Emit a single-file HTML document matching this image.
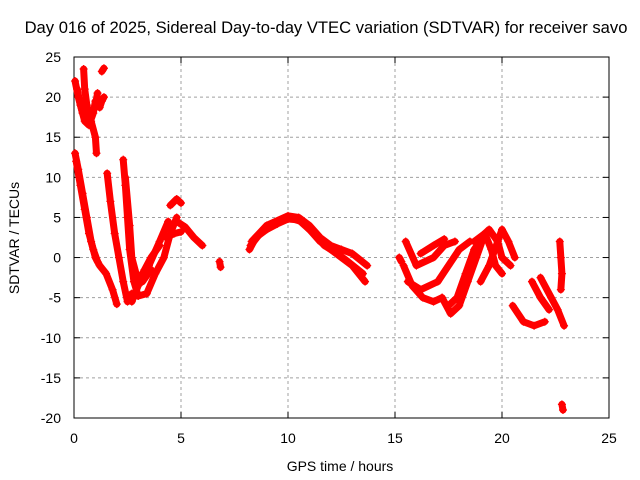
<!DOCTYPE html>
<html><head><meta charset="utf-8"><style>
body{margin:0;background:#fff;}
svg{display:block;font-family:"Liberation Sans",sans-serif;}
</style></head><body>
<svg id="chart" width="640" height="480" viewBox="0 0 640 480">
<rect width="640" height="480" fill="#fff"/>
<text x="326" y="33" font-size="16.6" text-anchor="middle">Day 016 of 2025, Sidereal Day-to-day VTEC variation (SDTVAR) for receiver savo</text>
<g id="grid"></g><g id="axes"></g><g id="marks"></g>
<text x="340" y="471" font-size="14" text-anchor="middle">GPS time / hours</text>
<text transform="translate(19,238) rotate(-90)" font-size="14" text-anchor="middle">SDTVAR / TECUs</text>
</svg>
<script>
const xTicks=[0,5,10,15,20,25];
const yTicks=[25,20,15,10,5,0,-5,-10,-15,-20];
const tracks=[
[[0.05,22],[0.2,20],[0.4,18],[0.6,17],[0.8,17.5],[1.0,19],[1.1,20.5]],
[[0.15,21],[0.3,19],[0.5,17],[0.7,16.5],[0.9,18],[1.0,19.5]],
[[0.45,23.5],[0.5,21],[0.6,19],[0.8,17],[1.0,15],[1.05,13]],
[[1.2,18.7],[1.3,19.5],[1.4,20]],
[[1.3,23.2],[1.4,23.6]],
[[0.05,13],[0.2,11],[0.4,8],[0.6,5],[0.8,2],[1.0,0],[1.2,-1],[1.5,-2],[1.8,-4],[2.0,-5.8]],
[[0.1,12],[0.3,9],[0.5,6],[0.7,3],[0.9,1],[1.1,-0.5]],
[[1.55,10.5],[1.7,7],[1.9,3],[2.1,0],[2.3,-3],[2.5,-5.5],[2.7,-4.5]],
[[2.3,12.2],[2.4,9],[2.5,5],[2.6,1],[2.8,-3],[3.0,-4.8],[3.4,-4.5],[3.8,-2],[4.2,0],[4.5,3],[4.8,5]],
[[2.4,10],[2.6,4],[2.7,0],[2.9,-2],[3.2,-3],[3.6,-1.5]],
[[2.7,-5.5],[3.0,-3.5],[3.5,-1],[4.0,2],[4.4,4.5]],
[[3.0,-3],[3.3,-1.5],[3.6,0],[4.0,1.5]],
[[4.5,6.5],[4.8,7.3],[5.0,6.8]],
[[4.8,4.5],[5.2,3.8],[5.6,2.5],[6.0,1.5]],
[[4.3,2.5],[4.7,3],[5.0,3.2]],
[[6.8,-0.5],[6.85,-1.2]],
[[8.2,1],[8.5,2.5],[9,3.5],[9.5,4.2],[10,4.8],[10.5,4.7],[11,3.5],[11.5,2],[12,1],[12.5,0],[13,-1],[13.6,-3]],
[[8.25,1.5],[8.7,3],[9.3,4],[10,5],[10.6,4.5],[11.2,3],[11.7,1.5],[12.3,0.5],[12.8,-0.5],[13.5,-2]],
[[8.3,2],[9,4],[10,5.2],[10.5,5],[11,4],[11.5,2.5],[12,1.5],[12.5,1],[13,0.5],[13.7,-1]],
[[15.2,0],[15.3,-0.5]],
[[15.4,-1],[15.8,-3.5],[16.3,-5],[16.8,-5.5],[17.2,-5]],
[[15.6,-3],[16.2,-4],[17.0,-3],[17.5,-1],[18,1],[18.5,2]],
[[15.5,2],[16.0,-1],[16.8,0],[17.3,1.5],[17.8,2]],
[[16.2,0.5],[16.8,1.5],[17.3,2.3]],
[[17.2,-5],[17.6,-7],[18,-6],[18.4,-3],[18.8,0],[19.2,3]],
[[17.5,-6],[17.9,-5],[18.3,-2],[18.7,1],[19.1,2.5]],
[[18.2,-3],[18.6,0],[19,2.5],[19.4,3.5],[19.8,2],[20,0],[20.4,-1]],
[[19.0,-3],[19.4,-1],[19.8,2],[20.0,3.5],[20.3,2],[20.6,0]],
[[18.7,2],[19.2,3],[19.5,1],[19.7,-1],[20,-2]],
[[20.5,-6],[21,-8],[21.5,-8.5],[22,-8]],
[[21.4,-3],[21.8,-5],[22.2,-6.5]],
[[21.8,-2.5],[22.3,-5],[22.6,-6.5],[22.9,-8.5]],
[[22.7,2],[22.75,0],[22.8,-2],[22.75,-4]],
[[22.8,-18.3],[22.85,-19]]
];
const NS='http://www.w3.org/2000/svg';
const L=74,R=609,T=57,B=418;
const xs=v=>L+(v-0)/25*(R-L);
const ys=v=>B-(v+20)/45*(B-T);
function mk(tag,attrs,parent){const e=document.createElementNS(NS,tag);for(const k in attrs)e.setAttribute(k,attrs[k]);parent.appendChild(e);return e;}
const grid=document.getElementById('grid'),axes=document.getElementById('axes'),marks=document.getElementById('marks');
xTicks.forEach(t=>{
 if(t>0&&t<25){const g=mk('line',{x1:xs(t),x2:xs(t),y1:T,y2:B,stroke:'#a0a0a0','stroke-dasharray':'3,3'},grid);
 
 }
 const tx=mk('text',{x:xs(t),y:B+25,'font-size':14,'text-anchor':'middle'},axes);tx.textContent=t;
 
 
 mk('line',{x1:xs(t),x2:xs(t),y1:B,y2:B-6,stroke:'#000'},axes);
 mk('line',{x1:xs(t),x2:xs(t),y1:T,y2:T+6,stroke:'#000'},axes);
});
yTicks.forEach(t=>{
 if(t>-20&&t<25){const g=mk('line',{x1:L,x2:R,y1:ys(t),y2:ys(t),stroke:'#a0a0a0','stroke-dasharray':'3,3'},grid);
 
 }
 const tx=mk('text',{x:L-13,y:ys(t)+5,'font-size':14,'text-anchor':'end'},axes);tx.textContent=t;
 
 
 mk('line',{x1:L,x2:L+6,y1:ys(t),y2:ys(t),stroke:'#000'},axes);
 mk('line',{x1:R,x2:R-6,y1:ys(t),y2:ys(t),stroke:'#000'},axes);
});
const fr=mk('rect',{x:L,y:T,width:R-L,height:B-T,fill:'none',stroke:'#000'},axes);


tracks.forEach(tr=>{
 const pl=mk('polyline',{points:tr.map(p=>xs(p[0])+','+ys(p[1])).join(' '),fill:'none',stroke:'#f00','stroke-width':7,'stroke-linejoin':'round','stroke-linecap':'round'},marks);
 
 
 tr.forEach(p=>{
  const x=xs(p[0]),y=ys(p[1]);
  const m=mk('path',{d:`M${x-4},${y}H${x+4}M${x},${y-4}V${y+4}`,stroke:'#f00','stroke-width':1.2},marks);
  
  
 });
});
</script>
</body></html>
